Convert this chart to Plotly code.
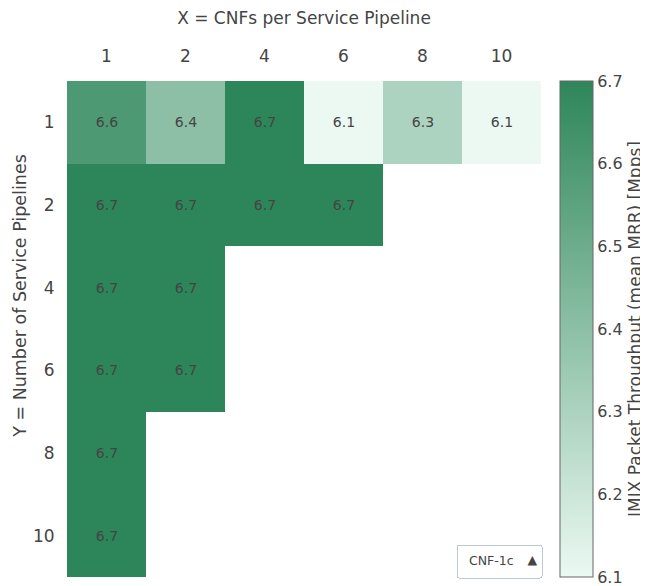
import plotly.graph_objects as go

x_labels = ["1", "2", "4", "6", "8", "10"]
y_labels = ["1", "2", "4", "6", "8", "10"]

row_1 = [6.6, 6.4, 6.7, 6.1, 6.3, 6.1]
row_2 = [6.7, 6.7, 6.7, 6.7, None, None]
row_4 = [6.7, 6.7, None, None, None, None]
row_6 = [6.7, 6.7, None, None, None, None]
row_8 = [6.7, None, None, None, None, None]
row_10 = [6.7, None, None, None, None, None]

z = [row_1, row_2, row_4, row_6, row_8, row_10]

colorbar_ticks = [6.1, 6.2, 6.3, 6.4, 6.5, 6.6, 6.7]

test_names = ["CNF-1c"]

colorscale = [[0.0, "rgb(235, 249, 242)"], [1.0, "rgb(45, 134, 89)"]]

FONT = "DejaVu Sans"

fig = go.Figure(
    go.Heatmap(
        x=x_labels,
        y=y_labels,
        z=z,
        zmin=min(colorbar_ticks),
        zmax=max(colorbar_ticks),
        colorscale=colorscale,
        texttemplate="%{z:.1f}",
        textfont=dict(size=14, color="#444", family=FONT),
        hoverongaps=False,
        colorbar=dict(
            title=dict(text="IMIX Packet Throughput (mean MRR) [Mpps]",
                       side="right", font=dict(size=17)),
            tickfont=dict(size=16),
            tickvals=colorbar_ticks,
            ticktext=[f"{v:.1f}" for v in colorbar_ticks],
            ticklabeloverflow="allow",
            thickness=33,
            outlinecolor="#666",
            outlinewidth=1,
            y=0, yanchor="bottom", len=1, ypad=0,
            x=1.02, xpad=10,
        ),
    )
)

fig.update_layout(
    width=640,
    height=578,
    margin=dict(l=59, r=107, t=73, b=9, autoexpand=False),
    paper_bgcolor="white",
    plot_bgcolor="white",
    font=dict(family=FONT, color="#444"),
    xaxis=dict(
        type="category",
        side="top",
        automargin=False,
        title=dict(text="X = CNFs per Service Pipeline", font=dict(size=17), standoff=20),
        tickfont=dict(size=17),
        ticks="outside", ticklen=11, tickcolor="rgba(0,0,0,0)",
        showgrid=False, zeroline=False, showline=False,
    ),
    yaxis=dict(
        type="category",
        autorange="reversed",
        automargin=False,
        tickfont=dict(size=17),
        ticks="outside", ticklen=8, tickcolor="rgba(0,0,0,0)",
        showgrid=False, zeroline=False, showline=False,
    ),
    annotations=[
        dict(
            text="Y = Number of Service Pipelines",
            textangle=-90,
            xref="paper", yref="paper",
            x=-0.099, y=0.567,
            xanchor="center", yanchor="middle",
            showarrow=False,
            font=dict(size=17.5),
        )
    ],
    updatemenus=[
        dict(
            type="dropdown",
            direction="up",
            active=0,
            x=1, xanchor="right",
            y=0, yanchor="bottom",
            pad=dict(t=0, b=0, l=0, r=0),
            bgcolor="white",
            font=dict(size=12.5),
            buttons=[dict(label=n, method="restyle", args=[{"visible": [True]}])
                     for n in test_names],
        )
    ],
)

fig.write_html("out.html")
